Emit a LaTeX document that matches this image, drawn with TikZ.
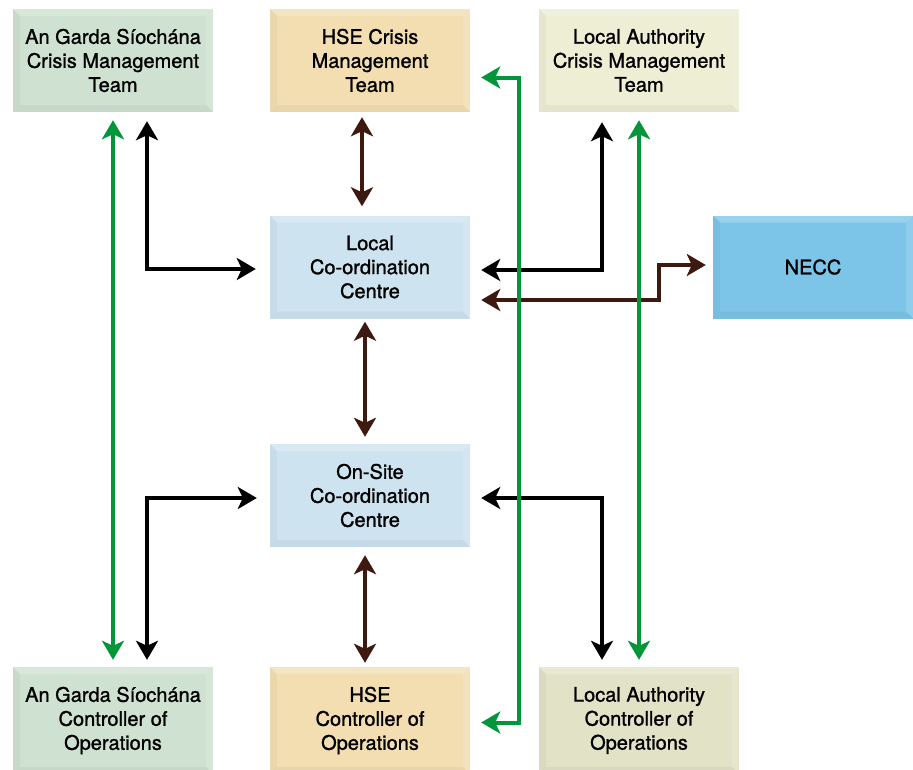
\documentclass[tikz,border=0pt]{standalone}
\usepackage{fontspec}
\setmainfont{TeX Gyre Heros}[BoldFont={TeX Gyre Heros}, BoldFeatures={FakeBold=1.2}]
\usetikzlibrary{arrows.meta}
\definecolor{gardaC}{RGB}{207,225,208}
\definecolor{hseC}{RGB}{242,222,177}
\definecolor{lacmtC}{RGB}{237,238,212}
\definecolor{lacoC}{RGB}{226,226,199}
\definecolor{coordC}{RGB}{206,227,240}
\definecolor{neccC}{RGB}{124,197,232}
\definecolor{greenA}{RGB}{0,150,57}
\definecolor{brownA}{RGB}{61,25,15}
\tikzset{
  box/.style={minimum width=200pt, minimum height=103pt, inner sep=0pt,
    align=center, font=\fontsize{20}{24}\selectfont\bfseries, text=black,
    path picture={
      \fill[white,opacity=0.22] (path picture bounding box.north west) -- (path picture bounding box.north east)
        -- ([xshift=-7pt,yshift=-7pt]path picture bounding box.north east) -- ([xshift=7pt,yshift=-7pt]path picture bounding box.north west) -- cycle;
      \fill[white,opacity=0.14] (path picture bounding box.north east) -- (path picture bounding box.south east)
        -- ([xshift=-7pt,yshift=7pt]path picture bounding box.south east) -- ([xshift=-7pt,yshift=-7pt]path picture bounding box.north east) -- cycle;
      \fill[black,opacity=0.04] (path picture bounding box.south east) -- (path picture bounding box.south west)
        -- ([xshift=7pt,yshift=7pt]path picture bounding box.south west) -- ([xshift=-7pt,yshift=7pt]path picture bounding box.south east) -- cycle;
      \fill[black,opacity=0.03] (path picture bounding box.south west) -- (path picture bounding box.north west)
        -- ([xshift=7pt,yshift=-7pt]path picture bounding box.north west) -- ([xshift=7pt,yshift=7pt]path picture bounding box.south west) -- cycle;
    }},
  tip/.tip={Stealth[length=19pt,width=22pt,inset=5pt]},
  conn/.style={line width=4pt, {tip}-{tip}},
  blk/.style={conn, draw=black},
  grn/.style={conn, draw=greenA},
  brn/.style={conn, draw=brownA},
}
\begin{document}
\begin{tikzpicture}[x=1pt,y=-1pt]
\useasboundingbox (0,0) rectangle (913,769);
\node[box, fill=gardaC] (gcmt) at (113,60.5) {An Garda Síochána\\Crisis Management\\Team};
\node[box, fill=hseC] (hcmt) at (370,60.5) {HSE Crisis\\Management\\Team};
\node[box, fill=lacmtC] (lcmt) at (639,60.5) {Local Authority\\Crisis Management\\Team};
\node[box, fill=coordC] (lcc) at (370,267) {Local\\Co-ordination\\Centre};
\node[box, fill=neccC] (necc) at (813,267) {NECC};
\node[box, fill=coordC] (osc) at (370,495.5) {On-Site\\Co-ordination\\Centre};
\node[box, fill=gardaC, minimum height=107pt] (gco) at (113,720.5) {An Garda Síochána\\Controller of\\Operations};
\node[box, fill=hseC, minimum height=107pt] (hco) at (370,720.5) {HSE\\Controller of\\Operations};
\node[box, fill=lacoC, minimum height=107pt] (lco) at (639,720.5) {Local Authority\\Controller of\\Operations};

% black connectors
\draw[blk, shorten <=9pt, shorten >=14pt] ([xshift=34pt]gcmt.south) |- ([yshift=-2pt]lcc.west);
\draw[blk, shorten <=7pt, shorten >=13pt] ([xshift=34pt]gco.north) |- ([yshift=-2.5pt]osc.west);
\draw[blk, shorten <=10pt, shorten >=11pt] ([xshift=-37pt]lcmt.south) |- ([yshift=-3pt]lcc.east);
\draw[blk, shorten <=11pt, shorten >=7pt] ([yshift=-2.5pt]osc.east) -| ([xshift=-37pt]lco.north);

% brown connectors
\draw[brn, shorten <=5pt, shorten >=9pt] ([xshift=-8pt]hcmt.south) -- ([xshift=-8pt]lcc.north);
\draw[brn, shorten <=3pt, shorten >=7pt] ([xshift=-5pt]lcc.south) -- ([xshift=-5pt]osc.north);
\draw[brn, shorten <=8pt, shorten >=4pt] ([xshift=-5pt]osc.south) -- ([xshift=-5pt]hco.north);
\draw[brn, shorten <=11pt, shorten >=7pt] ([yshift=-33pt]lcc.east) -| ([xshift=-54pt,yshift=2pt]necc.west) -- ([yshift=2pt]necc.west);

% green connectors
\draw[grn, shorten <=8pt, shorten >=7pt] (gcmt.south) -- (gco.north);
\draw[grn, shorten <=8pt, shorten >=7pt] (lcmt.south) -- (lco.north);
\draw[grn, shorten <=11pt, shorten >=11pt] ([yshift=-17pt]hcmt.east) -- ++(49,0) |- ([yshift=-2pt]hco.east);
\end{tikzpicture}
\end{document}
